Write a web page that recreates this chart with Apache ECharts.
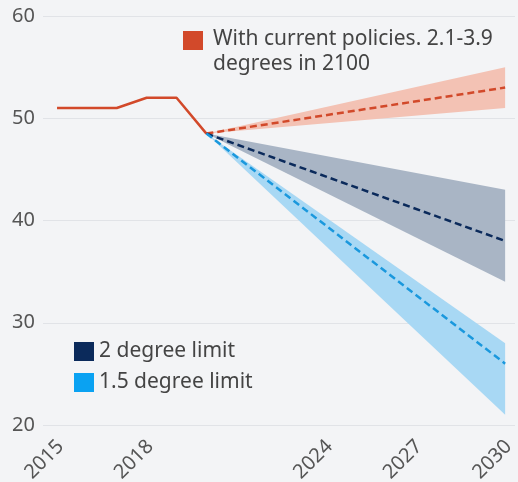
<!DOCTYPE html>
<html>
<head>
<meta charset="utf-8">
<script src="https://cdn.jsdelivr.net/npm/echarts@6/dist/echarts.min.js"></script>
<style>
html,body{margin:0;padding:0;background:#f3f4f6;}
#c{width:518px;height:482px;}
</style>
</head>
<body>
<div id="c"></div>
<script>
// Data
const histYears = [2015, 2016, 2017, 2018, 2019, 2020];
const histValues = [51, 51, 51, 52, 52, 48.5];
const projYears = [2020, 2030];
const policyMid = [48.5, 53];
const policyLow = [48.5, 51];
const policyHigh = [48.5, 55];
const deg2Mid = [48.5, 38];
const deg2Low = [48.5, 34];
const deg2High = [48.5, 43];
const deg15Mid = [48.5, 26];
const deg15Low = [48.5, 21];
const deg15High = [48.5, 28];
const xTickLabels = [2015, 2018, 2024, 2027, 2030];
const legendPolicy = 'With current policies. 2.1-3.9\ndegrees in 2100';
const legend2 = '2 degree limit';
const legend15 = '1.5 degree limit';

const cOrange = '#d2492a', cOrangeBand = '#f3c2b4';
const cNavy = '#0b2a5b', cNavyBand = '#a9b5c5';
const cBlue = '#1a98dd', cBlueBand = '#a8d8f4', cBlueLegend = '#0aa2f2';

const pairs = (xs, ys) => xs.map((x, i) => [x, ys[i]]);

function band(name, lo, hi, color) {
  // one row per year: [x, low, high]
  const rows = projYears.map((x, i) => [x, lo[i], hi[i]]);
  return {
    type: 'custom', name: name, silent: true, z: 1,
    data: [rows.flat()],
    encode: { x: [0, 3], y: [1, 2, 4, 5] },
    renderItem: function (params, api) {
      const n = rows.length;
      const top = [], bot = [];
      for (let i = 0; i < n; i++) {
        const x = api.value(i * 3), l = api.value(i * 3 + 1), h = api.value(i * 3 + 2);
        top.push(api.coord([x, h]));
        bot.unshift(api.coord([x, l]));
      }
      return { type: 'polygon', shape: { points: top.concat(bot) }, style: { fill: color } };
    }
  };
}

const chart = echarts.init(document.getElementById('c'), null, { renderer: 'canvas' });
const font = 'Noto Sans';
chart.setOption({
  backgroundColor: '#f3f4f6',
  animation: false,
  grid: { left: 43, right: 3, top: 16, bottom: 57, containLabel: false, outerBoundsMode: 'none' },
  xAxis: {
    type: 'value', min: 2014.53, max: 2030.33,
    axisLine: { show: false }, axisTick: { show: false }, splitLine: { show: false },
    axisLabel: { customValues: xTickLabels, rotate: 45, color: '#555', fontSize: 20, fontFamily: font, margin: 22,
      padding: [0, -5, 0, 0], formatter: v => String(v) }
  },
  yAxis: {
    type: 'value', min: 20, max: 60, interval: 10,
    axisLine: { show: false }, axisTick: { show: false },
    splitLine: { lineStyle: { color: '#e1e3e7', width: 1 } },
    axisLabel: { color: '#555', fontSize: 20, fontFamily: font, margin: 8 }
  },
  legend: {
    left: 69, top: 336, orient: 'vertical', itemWidth: 20, itemHeight: 19, itemGap: 10, padding: 5,
    icon: 'rect', data: [legend2, legend15],
    textStyle: { color: '#444', fontSize: 21, fontFamily: font, padding: [0, 0, 0, 0] }
  },
  graphic: [
    { type: 'rect', left: 183, top: 31, shape: { width: 20, height: 19 }, style: { fill: cOrange } },
    { type: 'text', left: 213, top: 27, style: { text: legendPolicy, fill: '#444', fontSize: 21, fontFamily: font, lineHeight: 25 } }
  ],
  series: [
    band('policyBand', policyLow, policyHigh, cOrangeBand),
    band('d2Band', deg2Low, deg2High, cNavyBand),
    band('d15Band', deg15Low, deg15High, cBlueBand),
    { type: 'line', name: 'hist', data: pairs(histYears, histValues), symbol: 'none',
      lineStyle: { color: cOrange, width: 2.5 }, z: 3 },
    { type: 'line', name: 'policyMid', data: pairs(projYears, policyMid), symbol: 'none',
      lineStyle: { color: cOrange, width: 2.5, type: [7, 4] }, z: 3 },
    { type: 'line', name: legend2, data: pairs(projYears, deg2Mid), symbol: 'none', color: cNavy,
      lineStyle: { color: cNavy, width: 2.5, type: [7, 4] }, z: 3 },
    { type: 'line', name: legend15, data: pairs(projYears, deg15Mid), symbol: 'none', color: cBlueLegend,
      lineStyle: { color: cBlue, width: 2.5, type: [7, 4] }, z: 3 }
  ]
});
</script>
</body>
</html>
